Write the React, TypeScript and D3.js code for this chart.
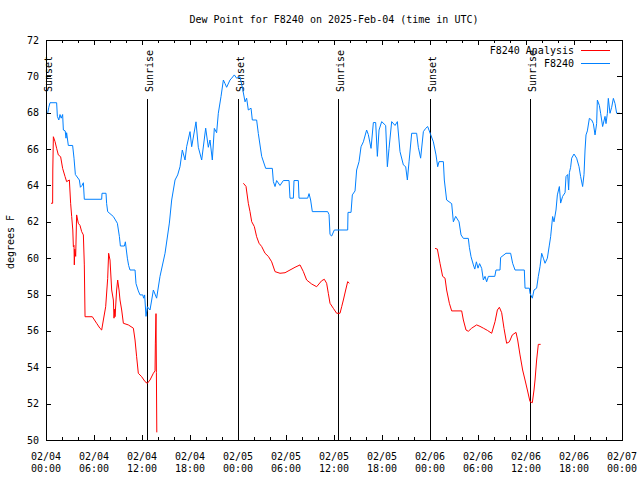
import React from "react";
import * as d3 from "d3";

const TITLE = "Dew Point for F8240 on 2025-Feb-04 (time in UTC)";
const Y_LABEL = "degrees F";
const SERIES_NAMES = ["F8240 Analysis", "F8240"];

// hours since 2025-02-04 00:00 UTC
const xTickHours = [0, 6, 12, 18, 24, 30, 36, 42, 48, 54, 60, 66, 72];
const xTickDates = ["02/04", "02/04", "02/04", "02/04", "02/05", "02/05", "02/05", "02/05", "02/06", "02/06", "02/06", "02/06", "02/07"];
const xTickTimes = ["00:00", "06:00", "12:00", "18:00", "00:00", "06:00", "12:00", "18:00", "00:00", "06:00", "12:00", "18:00", "00:00"];
const yTicks = [50, 52, 54, 56, 58, 60, 62, 64, 66, 68, 70, 72];

const sunEventHours = [0.05, 12.63, 24.04, 36.54, 48.0, 60.5];
const sunEventLabels = ["Sunset", "Sunrise", "Sunset", "Sunrise", "Sunset", "Sunrise"];

// F8240 station observations [hour, dew point]
const station: [number, number][] = [
  [0.21,67.97],[0.35,68.3],[0.5,68.55],[1.33,68.55],[1.42,67.8],[1.6,67.6],[1.75,67.9],[1.9,67.7],[2.08,67.9],[2.17,67.05],[2.4,67.0],[2.5,66.6],[2.58,66.9],[2.79,66.2],[3.33,66.2],[3.5,65.5],[3.67,64.6],[4.17,64.3],[4.3,63.9],[4.5,64.0],[4.67,64.15],[4.79,63.24],[6.96,63.24],[7.0,63.57],[7.5,63.57],[7.58,63.0],[7.71,62.56],[8.42,62.29],[8.92,61.92],[9.17,61.2],[9.3,60.67],[9.8,60.67],[9.92,60.9],[10.17,60.0],[10.33,59.6],[10.5,59.35],[11.13,59.35],[11.25,58.6],[11.54,58.2],[11.75,57.98],[12.1,57.98],[12.2,57.8],[12.33,57.98],[12.5,56.8],[12.67,57.33],[13.0,57.15],[13.42,58.25],[13.83,57.8],[14.25,59.0],[14.88,60.27],[15.42,61.93],[15.71,63.2],[16.13,64.3],[16.46,64.58],[16.75,65.03],[17.04,65.95],[17.38,65.4],[17.58,66.13],[18.0,66.96],[18.21,66.13],[18.75,67.5],[19.04,66.1],[19.46,65.4],[19.96,67.15],[20.29,66.1],[20.5,66.5],[20.79,65.4],[21.04,67.14],[21.33,66.9],[21.54,67.97],[21.88,68.9],[22.17,69.8],[22.38,69.6],[22.58,69.4],[23.0,69.8],[23.21,69.9],[23.54,70.08],[23.83,69.9],[24.25,69.98],[24.54,69.4],[24.88,68.6],[25.08,68.8],[25.29,68.15],[25.63,68.25],[25.79,67.6],[26.33,67.6],[26.54,66.86],[26.96,65.6],[27.46,64.94],[28.29,64.94],[28.42,64.21],[28.63,63.94],[28.83,64.27],[29.25,64.0],[29.67,64.27],[30.38,64.27],[30.5,63.3],[30.92,63.3],[31.0,64.27],[31.54,64.27],[31.63,63.3],[32.71,63.3],[32.88,63.55],[33.08,63.2],[33.29,62.56],[35.21,62.56],[35.38,62.4],[35.5,61.3],[35.71,61.22],[36.04,61.55],[37.71,61.55],[37.75,62.52],[38.13,62.52],[38.29,63.48],[38.63,63.7],[38.83,64.85],[39.13,65.31],[39.38,66.13],[39.67,66.4],[40.08,67.05],[40.29,66.8],[40.63,66.04],[40.92,67.46],[41.21,67.46],[41.42,65.6],[41.63,67.05],[41.96,67.51],[42.46,67.3],[42.67,65.03],[42.88,66.04],[43.21,67.51],[43.63,67.3],[43.92,67.51],[44.25,65.86],[44.67,65.13],[44.96,65.03],[45.17,64.3],[45.38,65.3],[45.71,66.87],[46.33,66.87],[46.54,66.1],[46.83,65.5],[47.17,66.96],[47.46,67.14],[47.71,67.24],[48.08,66.8],[48.42,66.4],[48.75,65.68],[48.96,65.03],[49.13,65.31],[49.67,65.31],[49.79,64.3],[50.08,63.2],[50.71,63.0],[50.92,62.0],[51.21,62.3],[51.63,62.0],[51.88,61.28],[52.17,61.09],[52.79,61.09],[52.92,60.6],[53.13,60.08],[53.42,59.63],[53.6,59.4],[53.8,59.8],[54.0,59.45],[54.2,59.7],[54.46,59.44],[54.67,58.8],[54.88,59.0],[55.08,58.7],[55.3,59.0],[56.1,59.0],[56.25,59.35],[56.75,59.35],[56.83,60.04],[57.5,60.27],[58.08,60.27],[58.33,59.72],[58.63,59.35],[59.79,59.35],[59.88,58.35],[60.42,58.35],[60.5,58.07],[60.79,57.8],[61.0,58.25],[61.33,58.35],[61.54,59.0],[61.75,59.53],[61.96,60.27],[62.17,60.0],[62.38,59.72],[62.67,60.0],[62.92,60.72],[63.08,61.18],[63.33,62.29],[63.5,62.0],[63.75,62.65],[63.92,63.48],[64.17,63.94],[64.33,63.03],[64.58,63.4],[64.88,63.6],[65.0,64.49],[65.21,64.6],[65.33,63.75],[65.42,64.7],[65.58,65.0],[65.71,65.5],[66.0,65.73],[66.33,65.5],[66.63,65.03],[66.83,64.49],[67.08,63.94],[67.25,64.6],[67.38,65.95],[67.5,66.78],[67.67,67.0],[67.92,67.69],[68.21,67.6],[68.42,67.4],[68.63,66.78],[68.83,67.4],[68.92,68.7],[69.17,68.4],[69.33,67.97],[69.58,67.24],[69.88,67.8],[70.0,67.4],[70.17,67.97],[70.29,68.79],[70.5,67.97],[70.71,68.3],[70.92,68.79],[71.13,68.5],[71.33,67.97],[71.75,67.97]
];

// F8240 Analysis, three separate runs
const analysisRun1: [number, number][] = [
  [0.63,63.02],[0.83,63.02],[0.85,64.85],[0.92,66.68],[1.13,66.41],[1.33,66.04],[1.54,65.68],[1.83,65.58],[2.08,64.94],[2.38,64.49],[2.58,64.21],[2.92,64.3],[3.08,63.02],[3.21,62.29],[3.35,61.55],[3.42,60.63],[3.5,60.7],[3.54,59.63],[3.6,60.5],[3.71,60.1],[3.83,62.38],[4.04,61.92],[4.25,61.8],[4.46,61.46],[4.67,61.28],[4.79,59.63],[4.88,56.78],[5.79,56.78],[6.33,56.42],[6.75,56.14],[6.96,56.05],[7.17,56.6],[7.46,57.33],[7.71,58.89],[7.83,60.27],[8.0,59.9],[8.21,58.25],[8.42,57.7],[8.5,56.7],[8.6,57.2],[8.63,56.78],[8.83,58.25],[8.96,58.8],[9.13,58.25],[9.25,57.7],[9.46,57.15],[9.67,56.42],[10.29,56.33],[10.92,56.15],[11.13,55.5],[11.33,54.58],[11.54,53.67],[11.96,53.48],[12.38,53.21],[12.67,53.12],[13.0,53.3],[13.42,53.67],[13.63,53.8],[13.67,55.33],[13.75,56.95],[13.8,53.7],[13.85,50.42]
];
const analysisRun2: [number, number][] = [
  [24.67,64.12],[25.0,63.95],[25.29,63.02],[25.5,62.56],[25.71,62.01],[26.04,61.74],[26.33,61.18],[26.63,60.82],[26.96,60.64],[27.38,60.27],[27.79,60.1],[28.21,59.8],[28.63,59.26],[29.25,59.17],[29.88,59.2],[30.5,59.35],[31.13,59.5],[31.75,59.63],[32.17,59.26],[32.58,58.8],[33.21,58.58],[33.83,58.43],[34.46,58.76],[34.79,58.84],[35.08,58.62],[35.29,58.07],[35.5,57.52],[35.92,57.24],[36.33,56.97],[36.75,56.97],[36.96,57.33],[37.17,57.7],[37.46,58.25],[37.71,58.71],[37.92,58.62]
];
const analysisRun3: [number, number][] = [
  [48.63,60.54],[48.92,60.5],[49.25,59.72],[49.58,59.0],[49.88,58.9],[50.08,58.25],[50.42,57.52],[50.71,57.1],[51.96,57.1],[52.17,56.6],[52.5,56.05],[52.79,55.98],[53.21,56.15],[53.83,56.33],[54.25,56.25],[54.67,56.15],[55.17,56.03],[55.71,55.87],[56.13,56.51],[56.42,57.15],[56.67,57.3],[56.96,57.0],[57.25,56.14],[57.58,55.32],[57.92,55.4],[58.29,55.78],[58.75,55.92],[58.96,55.5],[59.25,54.68],[59.58,53.85],[59.88,53.3],[60.17,52.75],[60.5,52.11],[60.79,52.05],[61.0,52.75],[61.13,53.3],[61.33,54.4],[61.54,55.26],[61.83,55.26]
];

const RED = "#ff0000";
const BLUE = "#0080ff";
const FONT = "'DejaVu Sans Mono', 'Liberation Mono', monospace";

export default function App() {
  const W = 640, H = 480;
  const L = 46, R = 622, T = 40, B = 440;
  const x = d3.scaleLinear().domain([0, 72]).range([L, R]);
  const y = d3.scaleLinear().domain([50, 72]).range([B, T]);
  const line = d3.line<[number, number]>().x(d => x(d[0])).y(d => y(d[1]));
  const minorHours = d3.range(0, 73, 2).filter(h => h % 6 !== 0);

  return (
    <svg width={W} height={H} style={{ position: "absolute", left: 0, top: 0, background: "#fff" }}
      fontFamily={FONT} fontSize={10}>
      <rect x={0} y={0} width={W} height={H} fill="#fff" />
      <text x={334} y={23} textAnchor="middle" fill="#000">{TITLE}</text>

      {/* sun event lines */}
      {sunEventHours.map((h, i) => (
        <g key={"s" + i}>
          <line x1={Math.round(x(h)) + 0.5} x2={Math.round(x(h)) + 0.5} y1={99} y2={B} stroke="#000" strokeWidth={1} />
          <text transform={`translate(${x(h) + 5.5},92) rotate(-90)`} textAnchor="start" fill="#000">{sunEventLabels[i]}</text>
        </g>
      ))}

      {/* series */}
      <path d={line(station) || ""} fill="none" stroke={BLUE} strokeWidth={1} />
      {[analysisRun1, analysisRun2, analysisRun3].map((run, i) => (
        <path key={"a" + i} d={line(run) || ""} fill="none" stroke={RED} strokeWidth={1} />
      ))}

      {/* frame */}
      <rect x={L + 0.5} y={T + 0.5} width={R - L} height={B - T} fill="none" stroke="#000" strokeWidth={1} shapeRendering="crispEdges" />

      {/* y ticks */}
      {yTicks.map(v => (
        <g key={"y" + v} shapeRendering="crispEdges">
          <line x1={L} x2={L + 5} y1={Math.round(y(v)) + 0.5} y2={Math.round(y(v)) + 0.5} stroke="#000" />
          <line x1={R - 5} x2={R} y1={Math.round(y(v)) + 0.5} y2={Math.round(y(v)) + 0.5} stroke="#000" />
          <text x={39} y={y(v)} dy="0.35em" textAnchor="end" fill="#000">{v}</text>
        </g>
      ))}

      {/* x ticks */}
      {xTickHours.map((h, i) => (
        <g key={"x" + h} shapeRendering="crispEdges">
          <line x1={Math.round(x(h)) + 0.5} x2={Math.round(x(h)) + 0.5} y1={B} y2={B - 5} stroke="#000" />
          <line x1={Math.round(x(h)) + 0.5} x2={Math.round(x(h)) + 0.5} y1={T} y2={T + 5} stroke="#000" />
          <text x={x(h)} y={456} dy="0.35em" textAnchor="middle" fill="#000">{xTickDates[i]}</text>
          <text x={x(h)} y={468} dy="0.35em" textAnchor="middle" fill="#000">{xTickTimes[i]}</text>
        </g>
      ))}
      {minorHours.map(h => (
        <g key={"m" + h} shapeRendering="crispEdges">
          <line x1={Math.round(x(h)) + 0.5} x2={Math.round(x(h)) + 0.5} y1={B} y2={B - 3} stroke="#000" />
          <line x1={Math.round(x(h)) + 0.5} x2={Math.round(x(h)) + 0.5} y1={T} y2={T + 3} stroke="#000" />
        </g>
      ))}

      {/* y label */}
      <text transform="translate(14,242) rotate(-90)" textAnchor="middle" fill="#000">{Y_LABEL}</text>

      {/* legend */}
      <text x={574} y={50} dy="0.35em" textAnchor="end" fill="#000">{SERIES_NAMES[0]}</text>
      <line x1={581} x2={610} y1={50.5} y2={50.5} stroke={RED} />
      <text x={574} y={63} dy="0.35em" textAnchor="end" fill="#000">{SERIES_NAMES[1]}</text>
      <line x1={581} x2={610} y1={63.5} y2={63.5} stroke={BLUE} />
    </svg>
  );
}
